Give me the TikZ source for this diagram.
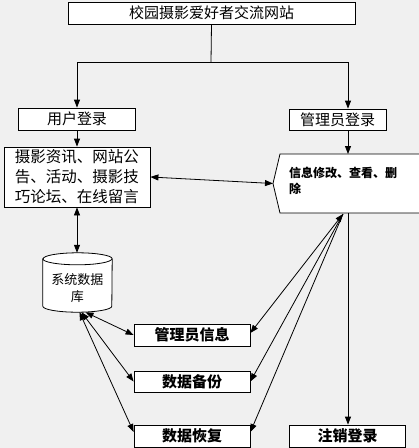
\documentclass[tikz,border=0pt]{standalone}
\usepackage{fontspec}
\setmainfont{Noto Sans CJK SC}
\usetikzlibrary{arrows.meta}
\definecolor{bg}{HTML}{F0F0F0}

\begin{document}
\begin{tikzpicture}[x=1pt,y=-1pt,
        box/.style={draw,fill=white,line width=0.8pt,minimum height=22pt,inner sep=0pt,font=\fontsize{15pt}{18pt}\selectfont},
        boldbox/.style={box,font=\bfseries\fontsize{15pt}{18pt}\selectfont},
        link/.style={line width=0.8pt,-{Triangle[length=8pt,width=6pt]}},
        both/.style={line width=0.8pt,{Triangle[length=8pt,width=6pt]}-{Triangle[length=8pt,width=6pt]}}]
        \useasboundingbox (0,0) rectangle (419,448);
        \clip (0,0) rectangle (419,448);
        \fill[bg] (0,0) rectangle (419,448);
        \node [box,minimum width=287pt] (site) at (211.5,13) {校园摄影爱好者交流网站};
        \node [box,minimum width=117pt] (user) at (77,119) {用户登录};
        \node [box,minimum width=97pt,minimum height=21pt] (admin) at (337.5,119.5) {管理员登录};
        \node [box,minimum width=146pt,minimum height=60pt,align=left,font=\fontsize{15.5pt}{20pt}\selectfont] (portal) at (77,177) {摄影资讯、网站公\\告、活动、摄影技\\巧论坛、在线留言};
        \draw [fill=white,line width=0.8pt] (430,154) -- (280,154) -- (273,183.5) -- (280,213) -- (430,213);
        \node [anchor=north west,align=left,inner sep=0pt,font=\bfseries\fontsize{12pt}{16pt}\selectfont] (info) at (289,167) {信息修改、查看、删\\除};
        \coordinate (infoL) at (273,183.5);
        \coordinate (infoT) at (348,154);
        \coordinate (infoB) at (343,214);
        \coordinate (infoR) at (348,213);
        \node [minimum width=69pt,minimum height=59pt,inner sep=0pt] (db) at (77.5,282.5) {};
        \draw [fill=white,line width=0.8pt] ([yshift=-6pt]db.north west) -- ([yshift=6pt]db.south west)
              arc [start angle=180,end angle=0,x radius=34.5,y radius=6] -- ([yshift=-6pt]db.north east)
              arc [start angle=0,end angle=-180,x radius=34.5,y radius=6] -- cycle;
        \draw [line width=0.8pt] ([yshift=-6pt]db.north west) arc [start angle=180,end angle=0,x radius=34.5,y radius=6];
        \node [align=center,inner sep=0pt,font=\fontsize{13pt}{17pt}\selectfont] (dbtext) at ([yshift=-6pt]db.center) {系统数据\\库};
        \node [boldbox,minimum width=116pt] (mgrinfo) at (192,335) {管理员信息};
        \node [boldbox,minimum width=116pt,minimum height=21pt] (backup) at (192,381.5) {数据备份};
        \node [boldbox,minimum width=116pt] (restore) at (192,436) {数据恢复};
        \node [boldbox,minimum width=116pt] (logout) at (347.5,436) {注销登录};
        \coordinate (fork) at (211,62);
        \draw [line width=0.8pt] (site.south) -- (fork);
        \draw [link] (fork) -| (user.north);
        \draw [link] (fork) -| ([xshift=10.5pt]admin.north);
        \draw [link] (user.south) -- (portal.north);
        \draw [link] ([xshift=10.5pt]admin.south) -- (infoT);
        \draw [both] (portal.east) -- (infoL);
        \draw [both] (portal.south) -- (portal.south |- db.north);
        \draw [link] (infoR) -- (infoR |- logout.north);
        \draw [both] (infoB) -- ([yshift=2pt]mgrinfo.east);
        \draw [link] (infoB) -- (backup.east);
        \draw [link] (infoB) -- ([yshift=4pt]restore.east);
        \draw [both] ([xshift=8pt]db.south) -- (mgrinfo.west);
        \draw [both] ([xshift=4pt]db.south) -- (backup.west);
        \draw [both] ([xshift=2pt]db.south) -- ([yshift=4pt]restore.west);
\end{tikzpicture}
\end{document}
